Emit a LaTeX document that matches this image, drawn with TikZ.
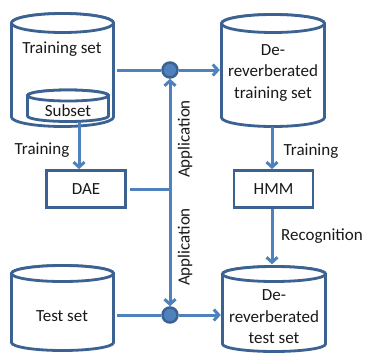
\documentclass[tikz,border=0pt]{standalone}
\usepackage{fontspec}
\setmainfont{Carlito}
\usetikzlibrary{arrows.meta}
\definecolor{edge}{HTML}{3B6291}
\definecolor{flow}{HTML}{4F81BD}
\tikzset{
  drumline/.style={draw=edge, line width=2.8pt, fill=white},
  box/.style={draw=edge, line width=2.8pt, minimum width=79pt, minimum height=37pt, inner sep=0pt},
  lbl/.style={font=\fontsize{17}{21.5}\selectfont, text=black!90, inner sep=0pt, align=center},
  tipend/.tip={Straight Barb[length=5pt,width=11pt]},
  flowline/.style={draw=flow, line width=3pt, -tipend},
  plainline/.style={draw=flow, line width=3pt},
  dot/.style={circle, fill=flow, draw=edge, line width=2.5pt, minimum size=15pt, inner sep=0pt},
}
% Drum (database) shape: left, top, right, bottom, ellipse half-height, name
\newcommand\drum[6]{%
  \draw[drumline] (#1,#2+#5) -- (#1,#4-#5)
    arc[start angle=180, end angle=0, x radius={(#3-#1)/2}, y radius=#5]
    -- (#3,#2+#5)
    arc[start angle=0, end angle=-180, x radius={(#3-#1)/2}, y radius=#5] -- cycle;
  \draw[drumline] ({(#1+#3)/2},#2+#5) ellipse[x radius={(#3-#1)/2}, y radius=#5];
  \path ({(#1+#3)/2},{(#2+#4)/2}) node[inner sep=0pt, minimum width={#3pt-#1pt}, minimum height={#4pt-#2pt}] (#6) {};
}
\begin{document}
\begin{tikzpicture}[x=1pt, y=-1pt]
\useasboundingbox (0,0) rectangle (366,356);

% data sets
\drum{11.5}{13.5}{113.5}{126.5}{9.5}{ts}
\drum{27.5}{90}{108.5}{121.5}{5.5}{sub}
\drum{221.5}{14.5}{324.5}{126.5}{9}{dts}
\drum{11.5}{265.5}{113.5}{350.5}{8}{test}
\drum{222.5}{266.5}{325.5}{351.5}{7.5}{dtest}

\node[lbl] (tstext) at (62,49) {Training set};
\node[lbl] (subtext) at (68,111) {Subset};
\node[lbl] (dtstext) at (273,73) {De-\\reverberated\\training set};
\node[lbl] (testtext) at (62,316) {Test set};
\node[lbl] (dtesttext) at (274,317) {De-\\reverberated\\test set};

% models
\node[box, lbl] (dae) at (86,189) {DAE};
\node[box, lbl] (hmm) at (273.5,189) {HMM};

% junctions
\node[dot] (c1) at (170,70) {};
\node[dot] (c2) at (170,315) {};

% connectors
\draw[plainline] ([xshift=3pt]ts.east |- c1) -- (c1);
\draw[flowline, shorten >=1.5pt] (c1) -- (dts.west |- c1);
\draw[plainline] ([xshift=3pt]test.east |- c2) -- (c2);
\draw[flowline, shorten >=1.5pt] (c2) -- (dtest.west |- c2);
\draw[flowline, tipend-tipend] (c1) -- (c2);
\draw[plainline] ([xshift=3pt]dae.east) -- (dae.east -| c1);
\draw[flowline] ([xshift=11pt]sub.south) -- ([xshift=11pt]sub.south |- dae.north);
\draw[flowline] ([xshift=-1pt]dts.south) -- ([xshift=-1pt]dts.south |- hmm.north);
\draw[flowline, shorten >=2pt] ([xshift=-1.5pt]hmm.south) -- ([xshift=-1.5pt]hmm.south |- dtest.north);

% labels
\node[lbl] (trl) at (42,150) {Training};
\node[lbl] (trr) at (311,151) {Training};
\node[lbl] (rec) at (322,236) {Recognition};
\node[lbl, rotate=90] (app1) at (185,139) {Application};
\node[lbl, rotate=90] (app2) at (185,247) {Application};
\end{tikzpicture}
\end{document}
